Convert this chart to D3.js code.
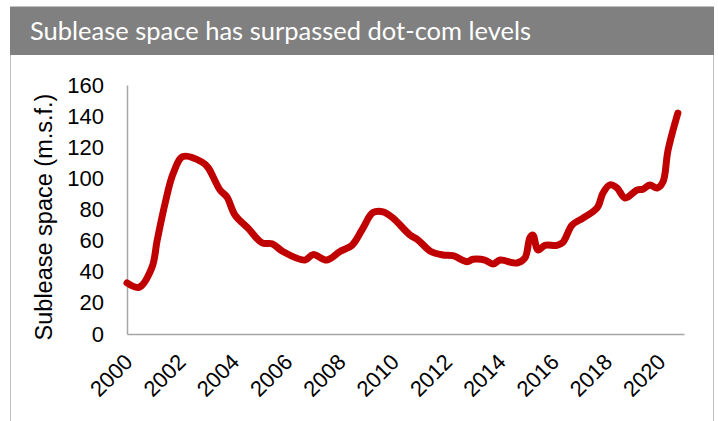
<!DOCTYPE html>
<html>
<head>
<meta charset="utf-8">
<script src="https://cdn.jsdelivr.net/npm/d3@7"></script>
<style>
  body { margin: 0; background: #fff; }
  svg { display: block; }
</style>
</head>
<body>
<div id="chart"></div>
<script>
const fullwidth = 718;
const fullheight = 421;

// sublease space (decimal year, million sq ft)
const years = [2000.0, 2000.45, 2000.94, 2001.13, 2001.43, 2001.73, 2002.10, 2002.81, 2003.04,
  2003.49, 2003.75, 2004.05, 2004.54, 2005.07, 2005.44, 2005.85, 2006.68, 2006.98, 2007.50,
  2007.99, 2008.44, 2008.82, 2009.23, 2009.61, 2009.98, 2010.62, 2010.92, 2011.40, 2011.86,
  2012.23, 2012.76, 2012.98, 2013.43, 2013.73, 2014.0, 2014.63, 2014.93, 2015.12, 2015.23,
  2015.42, 2015.68, 2016.13, 2016.36, 2016.70, 2017.11, 2017.64, 2017.86, 2018.12, 2018.39,
  2018.69, 2019.14, 2019.36, 2019.62, 2019.89, 2020.11, 2020.30, 2020.67];
const values = [32.8, 30, 43, 60, 84, 103, 114, 110.5, 107,
  92.5, 88, 76.5, 68, 58.5, 58, 53, 47.5, 51, 47.5,
  53, 57, 67, 78, 78.5, 74.5, 63.6, 60.4, 53, 50.8,
  50.3, 46.5, 48, 47.5, 45, 47.5, 45.6, 48.8, 62, 63.6,
  54, 57, 57, 59, 70, 74.5, 81, 90.6, 95.8, 93.8,
  87.4, 92.5, 93, 95.8, 93.8, 97.7, 118, 142];
const yTicks = [0, 20, 40, 60, 80, 100, 120, 140, 160];
const xTicks = [2000, 2002, 2004, 2006, 2008, 2010, 2012, 2014, 2016, 2018, 2020];

const title = "Sublease space has surpassed dot-com levels";
const yTitle = "Sublease space (m.s.f.)";

const data = years.map((y, i) => ({ year: y, value: values[i] }));

const svg = d3.select("#chart")
    .append("svg")
    .attr("width", fullwidth)
    .attr("height", fullheight);

// frame + header bar
svg.append("path")
    .attr("d", "M10.5,421 V6.5 H713.5 V421")
    .attr("fill", "none")
    .attr("stroke", "#bfbfbf")
    .attr("stroke-width", 1);
svg.append("rect")
    .attr("x", 10).attr("y", 7)
    .attr("width", 704).attr("height", 48)
    .attr("fill", "#808080");
svg.append("text")
    .attr("x", 30).attr("y", 40)
    .attr("fill", "#fff")
    .style("font-family", "Lato, 'Open Sans', sans-serif")
    .style("font-size", "25.5px")
    .text(title);

const x = d3.scaleLinear().domain([2000, 2020.9]).range([127, 684]);
const y = d3.scaleLinear().domain([0, 160]).range([334, 85]);

// y axis
const yAxis = svg.append("g")
    .attr("transform", "translate(127,0)")
    .call(d3.axisLeft(y).tickValues(yTicks).tickSize(0).tickPadding(23));
yAxis.select(".domain").attr("stroke", "#a6a6a6").attr("stroke-width", 1.5);
yAxis.selectAll("text")
    .attr("fill", "#000")
    .style("font-family", "'Liberation Sans', Arial, sans-serif")
    .style("font-size", "22px");

// x axis
const xAxis = svg.append("g")
    .attr("transform", "translate(0,334)")
    .call(d3.axisBottom(x).tickValues(xTicks).tickFormat(d3.format("d")).tickSize(0));
xAxis.select(".domain").attr("stroke", "#a6a6a6").attr("stroke-width", 1.5);
xAxis.selectAll("text")
    .attr("fill", "#000")
    .style("font-family", "'Liberation Sans', Arial, sans-serif")
    .style("font-size", "22px")
    .attr("text-anchor", "end")
    .attr("dy", "0.35em")
    .attr("y", 0)
    .attr("transform", "translate(1,24) rotate(-45)");

// axis title
svg.append("text")
    .attr("transform", "translate(52,217) rotate(-90)")
    .attr("text-anchor", "middle")
    .style("font-family", "'Liberation Sans', Arial, sans-serif")
    .style("font-size", "23.5px")
    .text(yTitle);

// the line
const line = d3.line()
    .x(d => x(d.year))
    .y(d => y(d.value))
    .curve(d3.curveCatmullRom.alpha(0.5));

svg.append("path")
    .datum(data)
    .attr("fill", "none")
    .attr("stroke", "#c00000")
    .attr("stroke-width", 7)
    .attr("stroke-linecap", "round")
    .attr("stroke-linejoin", "round")
    .attr("d", line);
</script>
</body>
</html>
